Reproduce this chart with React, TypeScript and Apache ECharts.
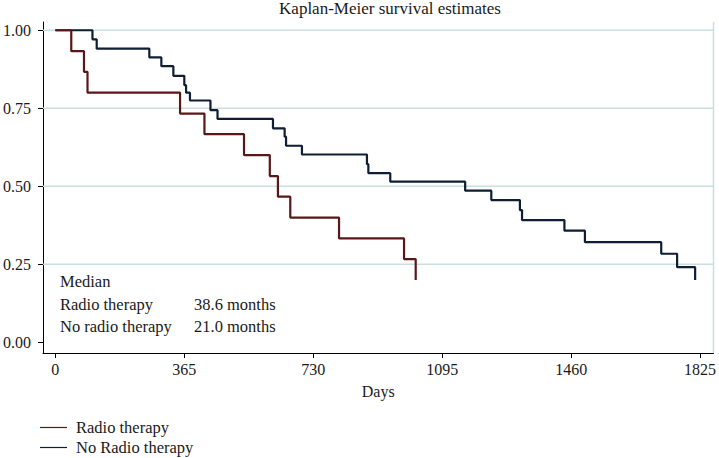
import React, { useEffect, useRef } from "react";
import * as echarts from "echarts";

const titleText = "Kaplan-Meier survival estimates";
const xTicks = [0, 365, 730, 1095, 1460, 1825];
const yTicks = [0, 0.25, 0.5, 0.75, 1.0];
const gridYValues = [0.25, 0.5, 0.75, 1.0];

const radioName = "Radio therapy";
const noRadioName = "No Radio therapy";

// red curve (step drops)
const redDays = [0, 45, 81, 91, 353, 422, 534, 607, 630, 665, 803, 987, 1020];
const redSurv = [1, 0.933, 0.867, 0.8, 0.733, 0.667, 0.6, 0.533, 0.467, 0.4, 0.333, 0.267, 0.2];

// blue curve (step drops)
const blueDays = [0, 105, 117, 266, 300, 334, 365, 370, 381, 439, 459, 616, 649, 653, 698, 882, 886, 948, 1160, 1234, 1315, 1321, 1441, 1499, 1715, 1760, 1811];
const blueSurv = [1, 0.971, 0.941, 0.913, 0.885, 0.854, 0.824, 0.8, 0.775, 0.744, 0.716, 0.686, 0.659, 0.63, 0.602, 0.571, 0.542, 0.515, 0.486, 0.456, 0.424, 0.392, 0.358, 0.321, 0.284, 0.241, 0.2];

const medianHeader = "Median";
const medianGroups = ["Radio therapy", "No radio therapy"];
const medianValues = ["38.6 months", "21.0 months"];

const FONT = "'Liberation Serif', 'Times New Roman', serif";
const RED = "#5a1717";
const BLUE = "#0f1d35";
const GRID = "#c9dfdf";
const TXT = "#1a1a1a";

export default function App() {
  const ref = useRef<HTMLDivElement>(null);
  useEffect(() => {
    if (!ref.current) return;
    const chart = echarts.init(ref.current, null, { renderer: "svg" });
    const red = redDays.map((d, i) => [d, redSurv[i]]);
    const blue = blueDays.map((d, i) => [d, blueSurv[i]]);
    const xMin = -35;
    const xMax = 1863;
    const yMin = -0.034;
    const yMax = 1.0265;

    const gridSeries = gridYValues.map((v, i) => ({
      name: "grid" + i,
      type: "line",
      data: [
        [xMin, v],
        [xMax, v],
      ],
      showSymbol: false,
      symbol: "none",
      silent: true,
      lineStyle: { color: GRID, width: 1.5 },
      z: 1,
    }));
    gridSeries.push({
      name: "gridR",
      type: "line",
      data: [
        [xMax, yMin],
        [xMax, yMax],
      ],
      showSymbol: false,
      symbol: "none",
      silent: true,
      lineStyle: { color: GRID, width: 1.5 },
      z: 1,
    });

    chart.setOption({
      animation: false,
      textStyle: { fontFamily: FONT },
      title: {
        text: titleText,
        left: 385,
        textAlign: "center",
        top: -5,
        textStyle: { fontFamily: FONT, fontSize: 17, fontWeight: "normal", color: TXT },
      },
      grid: { left: 39, right: 2, top: 22, bottom: 105 },
      legend: {
        orient: "vertical",
        left: 40,
        top: 419,
        padding: 0,
        itemWidth: 27,
        itemHeight: 1.2,
        itemGap: 3,
        icon: "rect",
        data: [
          { name: radioName, itemStyle: { color: RED } },
          { name: noRadioName, itemStyle: { color: BLUE } },
        ],
        textStyle: { fontFamily: FONT, fontSize: 16.5, lineHeight: 17, color: TXT, padding: [0, 0, 0, 4] },
      },
      xAxis: {
        type: "value",
        min: xMin,
        max: xMax,
        name: "Days",
        nameLocation: "middle",
        nameGap: 30,
        nameTextStyle: { fontFamily: FONT, fontSize: 16, color: TXT },
        axisLine: { onZero: false, lineStyle: { color: "#000", width: 1 } },
        axisTick: { show: true, length: 5, customValues: xTicks, lineStyle: { color: "#000" } },
        axisLabel: {
          customValues: xTicks,
          formatter: (v: number) => String(v),
          fontFamily: FONT,
          fontSize: 16,
          color: TXT,
          margin: 8,
        },
        splitLine: { show: false },
      },
      yAxis: {
        type: "value",
        min: yMin,
        max: yMax,
        axisLine: { show: true, onZero: false, lineStyle: { color: "#000", width: 1 } },
        axisTick: { show: true, length: 5, customValues: yTicks, lineStyle: { color: "#000" } },
        axisLabel: {
          customValues: yTicks,
          formatter: (v: number) => v.toFixed(2),
          fontFamily: FONT,
          fontSize: 16,
          color: TXT,
          margin: 12,
        },
        splitLine: { show: false },
      },
      series: [
        ...gridSeries,
        {
          name: noRadioName,
          type: "line",
          step: "end",
          data: blue,
          showSymbol: false,
          symbol: "none",
          lineStyle: { color: BLUE, width: 2.2 },
          itemStyle: { color: BLUE },
          z: 3,
        },
        {
          name: radioName,
          type: "line",
          step: "end",
          data: red,
          showSymbol: false,
          symbol: "none",
          lineStyle: { color: RED, width: 2.2 },
          itemStyle: { color: RED },
          z: 4,
        },
      ],
      graphic: [
        {
          type: "text",
          x: 60,
          y: 281.7,
          style: { text: medianHeader, font: `16.5px ${FONT}`, fill: TXT, verticalAlign: "middle" },
        },
        ...medianGroups.map((g, i) => ({
          type: "text",
          x: 60,
          y: 304 + i * 22,
          style: { text: g, font: `16.5px ${FONT}`, fill: TXT, verticalAlign: "middle" },
        })),
        ...medianValues.map((g, i) => ({
          type: "text",
          x: 194,
          y: 304 + i * 22,
          style: { text: g, font: `16.5px ${FONT}`, fill: TXT, verticalAlign: "middle" },
        })),
      ],
    });
    return () => chart.dispose();
  }, []);
  return (
    <div
      ref={ref}
      style={{ position: "fixed", left: 0, top: 0, width: 719, height: 458, background: "#fff" }}
    />
  );
}
